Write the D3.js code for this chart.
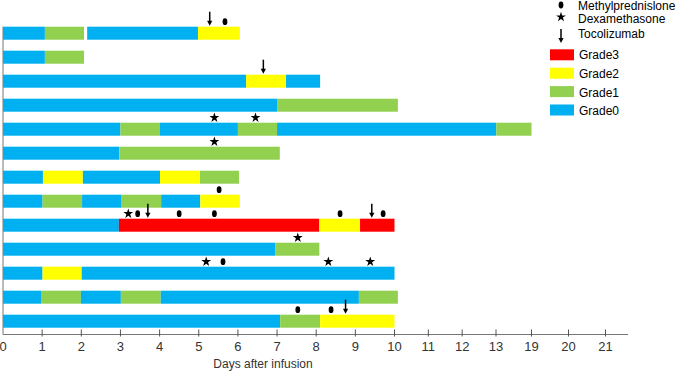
<!DOCTYPE html>
<html>
<head>
<meta charset="utf-8">
<script src="https://cdn.jsdelivr.net/npm/d3@7"></script>
<style>
  body { margin: 0; background: #fff; }
  text { font-family: Arial, "Liberation Sans", sans-serif; }
</style>
</head>
<body>
<div id="chart"></div>
<script>
// grade names + colours (index = grade)
const gradeNames = ["Grade0", "Grade1", "Grade2", "Grade3"];
const gradeColors = ["#00B0F0", "#92D050", "#FFFF00", "#FF0000"];

// axis ticks (axis is broken after 13)
const tickValues = [0, 1, 2, 3, 4, 5, 6, 7, 8, 9, 10, 11, 12, 13, 19, 20, 21];

// one list of [start, end, grade] per patient, top to bottom
const segments = [
  [[0, 1.07, 0], [1.07, 2.07, 1], [2.15, 4.98, 0], [4.98, 6.05, 2]],
  [[0, 1.07, 0], [1.07, 2.07, 1]],
  [[0, 6.21, 0], [6.21, 7.23, 2], [7.23, 8.1, 0]],
  [[0, 7.0, 0], [7.0, 10.1, 1]],
  [[0, 3.0, 0], [3.0, 4.0, 1], [4.0, 6.0, 0], [6.0, 7.0, 1], [7.0, 13.05, 0], [13.05, 19, 1]],
  [[0, 2.97, 0], [2.97, 7.07, 1]],
  [[0, 1.02, 0], [1.02, 2.04, 2], [2.04, 4.01, 0], [4.01, 5.03, 2], [5.03, 6.03, 1]],
  [[0, 1.01, 0], [1.01, 2.02, 1], [2.02, 3.03, 0], [3.03, 4.04, 1], [4.04, 5.04, 0], [5.04, 6.05, 2]],
  [[0, 2.96, 0], [2.96, 8.08, 3], [8.08, 9.12, 2], [9.12, 10, 3]],
  [[0, 6.95, 0], [6.95, 8.08, 1]],
  [[0, 1.01, 0], [1.01, 2.01, 2], [2.01, 10, 0]],
  [[0, 0.97, 0], [0.97, 1.99, 1], [1.99, 3.01, 0], [3.01, 4.03, 1], [4.03, 9.09, 0], [9.09, 10.1, 1]],
  [[0, 7.08, 0], [7.08, 8.1, 1], [8.1, 10, 2]]
];

// drug markers: [patient row, day]
const methylpred = [[0, 5.67], [7, 5.52], [8, 3.44], [8, 4.5], [8, 5.4], [8, 8.61], [8, 9.71],
  [10, 5.62], [12, 7.53], [12, 8.38]];
const dexa = [[4, 5.4], [4, 6.45], [5, 5.4], [8, 3.2], [9, 7.53], [10, 5.19], [10, 8.31], [10, 9.38]];
const tocilizumab = [[0, 5.28], [2, 6.65], [8, 3.7], [8, 9.42], [12, 8.75]];

const W = 676, H = 372;
const svg = d3.select("#chart").append("svg")
  .attr("width", W).attr("height", H);

// piecewise scale for the broken axis
const x = d3.scaleLinear()
  .domain([0, 10, 13, 19, 21])
  .range([3, 394.5, 496, 531.5, 605.5]);

const y = d3.scaleBand()
  .domain(d3.range(segments.length))
  .range([26.7, 327.7])
  .paddingInner(0.458);

const axisY = 334.5;

// left line
svg.append("line")
  .attr("x1", 3).attr("x2", 3)
  .attr("y1", y(0)).attr("y2", axisY)
  .attr("stroke", "#777").attr("stroke-width", 1);

// bars
const rows = svg.append("g").selectAll("g")
  .data(segments)
  .join("g");

rows.selectAll("rect")
  .data((d, i) => d.map(s => ({ s: s, row: i })))
  .join("rect")
    .attr("x", d => x(d.s[0]))
    .attr("y", d => y(d.row))
    .attr("width", d => x(d.s[1]) - x(d.s[0]))
    .attr("height", y.bandwidth())
    .attr("fill", d => gradeColors[d.s[2]]);

// x axis
const ax = svg.append("g");
ax.append("line")
  .attr("x1", 3).attr("x2", 628)
  .attr("y1", axisY).attr("y2", axisY)
  .attr("stroke", "#777");
ax.selectAll("line.tick")
  .data(tickValues.slice(1))
  .join("line")
    .attr("class", "tick")
    .attr("x1", d => x(d)).attr("x2", d => x(d))
    .attr("y1", axisY - 5).attr("y2", axisY + 2)
    .attr("stroke", "#555");
ax.selectAll("text")
  .data(tickValues)
  .join("text")
    .attr("x", d => x(d))
    .attr("y", 351)
    .attr("text-anchor", "middle")
    .attr("font-size", 13)
    .attr("fill", "#333")
    .text(d => d);

svg.append("text")
  .attr("x", 263).attr("y", 368)
  .attr("text-anchor", "middle")
  .attr("font-size", 12)
  .attr("fill", "#333")
  .text("Days after infusion");

// markers
const star = d3.symbol().type(d3.symbolStar).size(30);

function drawDot(g, cx, cy) {
  g.append("ellipse")
    .attr("cx", cx).attr("cy", cy)
    .attr("rx", 2.4).attr("ry", 3.4)
    .attr("fill", "#000");
}
function drawStar(g, cx, cy) {
  g.append("path")
    .attr("d", star())
    .attr("transform", `translate(${cx},${cy})`)
    .attr("fill", "#000");
}
function drawArrow(g, cx, y0, y1) {
  g.append("line")
    .attr("x1", cx).attr("x2", cx)
    .attr("y1", y0).attr("y2", y1 - 4)
    .attr("stroke", "#000").attr("stroke-width", 1.5);
  g.append("path")
    .attr("d", `M${cx - 2.6},${y1 - 5}L${cx + 2.6},${y1 - 5}L${cx},${y1}Z`)
    .attr("fill", "#000");
}

const mk = svg.append("g");
methylpred.forEach(d => drawDot(mk, x(d[1]), y(d[0]) - 5));
dexa.forEach(d => drawStar(mk, x(d[1]), y(d[0]) - 5));
tocilizumab.forEach(d => drawArrow(mk, x(d[1]), y(d[0]) - 15, y(d[0]) - 1));

// legend
const lg = svg.append("g");
drawDot(lg, 561, 5);
drawStar(lg, 561, 17);
drawArrow(lg, 561, 29, 43);
const lgText = [["Methylprednislone", 10], ["Dexamethasone", 23], ["Tocolizumab", 37.5]];
lg.selectAll("text.drug")
  .data(lgText)
  .join("text")
    .attr("class", "drug")
    .attr("x", 578).attr("y", d => d[1])
    .attr("font-size", 12)
    .text(d => d[0]);

const lgGrades = [3, 2, 1, 0];
lg.selectAll("rect")
  .data(lgGrades)
  .join("rect")
    .attr("x", 550)
    .attr("y", (d, i) => 49.3 + i * 18.4)
    .attr("width", 24).attr("height", 11)
    .attr("fill", d => gradeColors[d]);
lg.selectAll("text.grade")
  .data(lgGrades)
  .join("text")
    .attr("class", "grade")
    .attr("x", 579)
    .attr("y", (d, i) => 59.3 + i * 18.6)
    .attr("font-size", 12)
    .text(d => gradeNames[d]);
</script>
</body>
</html>
